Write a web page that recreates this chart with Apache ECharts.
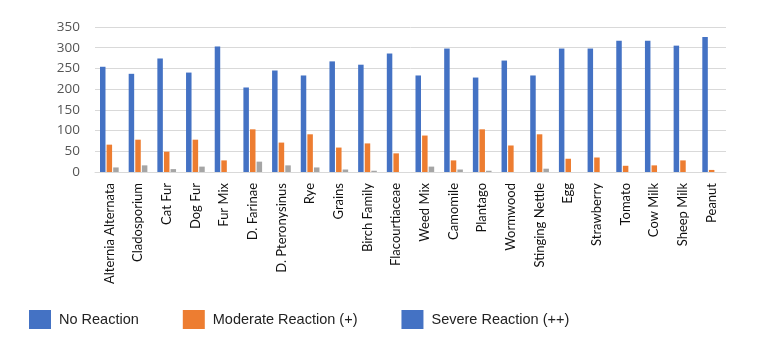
<!DOCTYPE html>
<html>
<head>
<meta charset="utf-8">
<script src="https://cdn.jsdelivr.net/npm/echarts@6/dist/echarts.min.js"></script>
<style>
  html, body { margin: 0; padding: 0; background: #fff; }
  #chart { width: 773px; height: 354px; }
</style>
</head>
<body>
<div id="chart"></div>
<script>
const allergens = ['Alternia Alternata', 'Cladosporium', 'Cat Fur', 'Dog Fur', 'Fur Mix', 'D. Farinae',
  'D. Pteronysinus', 'Rye', 'Grains', 'Birch Family', 'Flacourtiaceae', 'Weed Mix', 'Camomile',
  'Plantago', 'Wormwood', 'Stinging Nettle', 'Egg', 'Strawberry', 'Tomato', 'Cow Milk',
  'Sheep Milk', 'Peanut'];
const noReaction = [254, 237, 274, 240, 303, 204, 245, 233, 267, 259, 286, 233, 298, 228, 269,
  233, 298, 298, 317, 317, 305, 326];
const moderate = [66, 78, 49, 78, 28, 103, 71, 91, 59, 69, 45, 88, 28, 103, 64,
  91, 32, 35, 15, 16, 28, 5];
const severe = [11, 16, 7, 13, 0, 25, 16, 11, 6, 3, 0, 13, 6, 3, 0,
  8, 0, 0, 0, 0, 0, 0];
const yTicks = [0, 50, 100, 150, 200, 250, 300, 350];

const chart = echarts.init(document.getElementById('chart'));

const barBase = { type: 'bar', barWidth: 5.5, barGap: '20%' };

chart.setOption({
  animation: false,
  grid: { left: 95, right: 47, top: 27, bottom: 182 },
  legend: {
    left: 24,
    top: 305,
    itemWidth: 22,
    itemHeight: 19,
    itemGap: 44,
    icon: 'rect',
    textStyle: { fontFamily: 'Liberation Sans', fontSize: 14.5, color: '#222', padding: [0, 0, 0, 3] },
    data: [
      { name: 'No Reaction' },
      { name: 'Moderate Reaction (+)' },
      { name: 'Severe Reaction (++)', itemStyle: { color: '#4472C4' } }
    ]
  },
  xAxis: {
    type: 'category',
    data: allergens,
    axisTick: { show: false },
    axisLine: { lineStyle: { color: '#d9d9d9' } },
    axisLabel: {
      interval: 0,
      rotate: 90,
      fontFamily: 'Lato',
      fontSize: 13,
      color: '#111',
      margin: 11
    }
  },
  yAxis: {
    type: 'value',
    min: yTicks[0],
    max: yTicks[yTicks.length - 1],
    interval: 50,
    axisLine: { show: false },
    axisTick: { show: false },
    splitLine: { lineStyle: { color: '#d9d9d9' } },
    axisLabel: { fontFamily: 'Open Sans', fontSize: 13.5, color: '#555', margin: 15 }
  },
  series: [
    Object.assign({}, barBase, { name: 'No Reaction', data: noReaction, itemStyle: { color: '#4472C4' } }),
    Object.assign({}, barBase, { name: 'Moderate Reaction (+)', data: moderate, itemStyle: { color: '#ED7D31' } }),
    Object.assign({}, barBase, { name: 'Severe Reaction (++)', data: severe, itemStyle: { color: '#A5A5A5' } })
  ]
});
</script>
</body>
</html>
